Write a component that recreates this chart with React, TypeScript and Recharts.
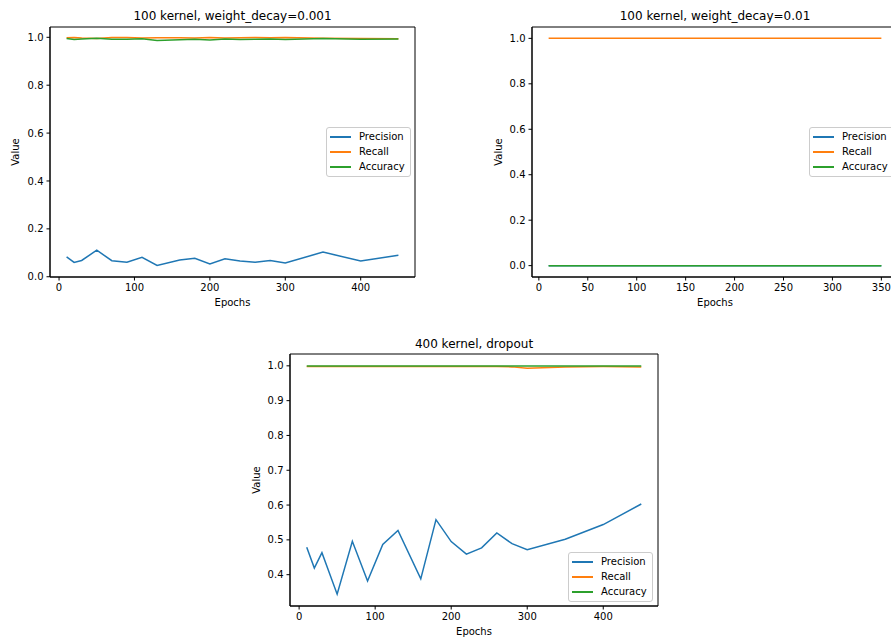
import React from "react";
import { LineChart, Line, XAxis, YAxis, Legend, CartesianGrid } from "recharts";

// ---- data ----
const EPOCHS_A = [10, 20, 30, 50, 70, 90, 110, 130, 160, 180, 200, 220, 240, 260, 280, 300, 350, 400, 450];
const PREC_A = [0.083, 0.060, 0.068, 0.111, 0.067, 0.061, 0.081, 0.047, 0.070, 0.077, 0.053, 0.075, 0.066, 0.061, 0.068, 0.058, 0.103, 0.066, 0.090];
const REC_A = [0.998, 0.999, 0.997, 0.995, 0.999, 0.999, 0.997, 0.998, 0.998, 0.997, 0.999, 0.997, 0.998, 0.999, 0.998, 0.999, 0.996, 0.995, 0.994];
const ACC_A = [0.995, 0.991, 0.993, 0.996, 0.992, 0.992, 0.994, 0.987, 0.990, 0.992, 0.989, 0.993, 0.991, 0.992, 0.993, 0.991, 0.995, 0.992, 0.993];

const EPOCHS_B = [10, 20, 30, 50, 70, 90, 110, 130, 160, 180, 200, 220, 240, 260, 280, 300, 350];
const PREC_B = [0, 0, 0, 0, 0, 0, 0, 0, 0, 0, 0, 0, 0, 0, 0, 0, 0];
const REC_B = [1, 1, 1, 1, 1, 1, 1, 1, 1, 1, 1, 1, 1, 1, 1, 1, 1];
const ACC_B = [0, 0, 0, 0, 0, 0, 0, 0, 0, 0, 0, 0, 0, 0, 0, 0, 0];

const EPOCHS_C = [10, 20, 30, 50, 70, 90, 110, 130, 160, 180, 200, 220, 240, 260, 280, 300, 350, 400, 450];
const PREC_C = [0.479, 0.419, 0.463, 0.344, 0.496, 0.382, 0.487, 0.527, 0.388, 0.558, 0.495, 0.459, 0.477, 0.520, 0.489, 0.472, 0.502, 0.544, 0.603];
const REC_C = [0.998, 0.998, 0.998, 0.998, 0.998, 0.998, 0.998, 0.998, 0.998, 0.998, 0.998, 0.998, 0.998, 0.998, 0.997, 0.993, 0.997, 0.998, 0.997];
const ACC_C = [0.9995, 0.9995, 0.9995, 0.9995, 0.9995, 0.9995, 0.9995, 0.9995, 0.9995, 0.9995, 0.9995, 0.9995, 0.9995, 0.9995, 0.9995, 0.9995, 0.9995, 0.9995, 0.9995];

const TITLES = ["100 kernel, weight_decay=0.001", "100 kernel, weight_decay=0.01", "400 kernel, dropout"];
const X_TICKS_A = [0, 100, 200, 300, 400];
const X_TICKS_B = [0, 50, 100, 150, 200, 250, 300, 350];
const Y_TICKS_AB = [0, 0.2, 0.4, 0.6, 0.8, 1.0];
const Y_TICKS_C = [0.4, 0.5, 0.6, 0.7, 0.8, 0.9, 1.0];
const SERIES = ["Precision", "Recall", "Accuracy"];
const COLORS = ["#1f77b4", "#ff7f0e", "#2ca02c"];

const build = (ep: number[], p: number[], r: number[], a: number[]) =>
  ep.map((e, i) => ({ epoch: e, Precision: p[i], Recall: r[i], Accuracy: a[i] }));

const FONT = "'DejaVu Sans', sans-serif";

const TextAt = ({ x, y, size, text, rotate }: any) => (
  <div
    style={{
      position: "absolute",
      left: x,
      top: y,
      transform: `translate(-50%, -50%)${rotate ? " rotate(-90deg)" : ""}`,
      whiteSpace: "nowrap",
      fontFamily: FONT,
      fontSize: size,
      lineHeight: 1,
      color: "#000",
    }}
  >
    {text}
  </div>
);

const LegendBox = () => (
  <div
    style={{
      border: "1px solid #cccccc",
      borderRadius: 3,
      background: "rgba(255,255,255,0.8)",
      padding: "1px 6px 2px 3px",
      fontFamily: FONT,
      fontSize: 10,
      color: "#000",
      width: 74,
      boxSizing: "content-box",
    }}
  >
    {SERIES.map((s, i) => (
      <div key={s} style={{ display: "flex", alignItems: "center", height: 15 }}>
        <div style={{ width: 21, height: 2, background: COLORS[i], marginRight: 8, flex: "none" }} />
        <span>{s}</span>
      </div>
    ))}
  </div>
);

const tickStyle = { fontSize: 10, fill: "#000", fontFamily: FONT };

const frameH = ({ offset }: any) => [offset.top, offset.top + offset.height];
const frameV = ({ offset }: any) => [offset.left, offset.left + offset.width];

const Panel = ({ data, left, top, width, height, yWidth, mTop, mRight, xHeight, xDomain, xTicks, yDomain, yTicks, legendLeft, legendTop }: any) => (
  <div style={{ position: "absolute", left, top }}>
    <LineChart width={width} height={height} data={data} margin={{ top: mTop, right: mRight, bottom: 0, left: 0 }}>
      <CartesianGrid
        stroke="#000"
        strokeWidth={1}
        horizontalCoordinatesGenerator={frameH}
        verticalCoordinatesGenerator={frameV}
      />
      <XAxis
        dataKey="epoch"
        type="number"
        domain={xDomain}
        ticks={xTicks}
        allowDataOverflow
        height={xHeight}
        tick={tickStyle}
        tickSize={3.5}
        tickMargin={3}
        stroke="#000"
        interval={0}
      />
      <YAxis
        type="number"
        domain={yDomain}
        ticks={yTicks}
        allowDataOverflow
        width={yWidth}
        tick={tickStyle}
        tickSize={3.5}
        tickMargin={3}
        stroke="#000"
        interval={0}
        tickFormatter={(v: number) => v.toFixed(1)}
      />
      {SERIES.map((s, i) => (
        <Line key={s} dataKey={s} type="linear" stroke={COLORS[i]} strokeWidth={1.5} dot={false} isAnimationActive={false} />
      ))}
      <Legend
        layout="horizontal"
        verticalAlign="middle"
        align="center"
        content={<LegendBox />}
        wrapperStyle={{ left: legendLeft, top: legendTop, width: "auto", height: "auto" }}
      />
    </LineChart>
  </div>
);

export default function App() {
  const dA = build(EPOCHS_A, PREC_A, REC_A, ACC_A);
  const dB = build(EPOCHS_B, PREC_B, REC_B, ACC_B);
  const dC = build(EPOCHS_C, PREC_C, REC_C, ACC_C);
  return (
    <div style={{ position: "absolute", left: 0, top: 0, width: 891, height: 639, overflow: "hidden", background: "#fff" }}>
      <Panel data={dA} left={0} top={0} width={420} height={310} yWidth={50} mTop={27} mRight={5} xHeight={33}
        xDomain={[-12, 472]} xTicks={X_TICKS_A} yDomain={[-0.001, 1.043]} yTicks={Y_TICKS_AB} legendLeft={326} legendTop={127} />
      <Panel data={dB} left={480} top={0} width={420} height={310} yWidth={52} mTop={27} mRight={2} xHeight={33}
        xDomain={[-7, 367]} xTicks={X_TICKS_B} yDomain={[-0.05, 1.05]} yTicks={Y_TICKS_AB} legendLeft={329} legendTop={127} />
      <Panel data={dC} left={240} top={330} width={430} height={309} yWidth={50} mTop={24} mRight={12} xHeight={33}
        xDomain={[-12, 472]} xTicks={X_TICKS_A} yDomain={[0.31, 1.034]} yTicks={Y_TICKS_C} legendLeft={328} legendTop={222} />

      <TextAt x={232.5} y={15.5} size={12} text={TITLES[0]} />
      <TextAt x={715} y={15.5} size={12} text={TITLES[1]} />
      <TextAt x={474} y={344} size={12} text={TITLES[2]} />

      <TextAt x={232.5} y={303} size={10} text="Epochs" />
      <TextAt x={715} y={303} size={10} text="Epochs" />
      <TextAt x={474} y={632} size={10} text="Epochs" />

      <TextAt x={16} y={152} size={10} text="Value" rotate />
      <TextAt x={498.5} y={152} size={10} text="Value" rotate />
      <TextAt x={256.7} y={480} size={10} text="Value" rotate />
    </div>
  );
}
